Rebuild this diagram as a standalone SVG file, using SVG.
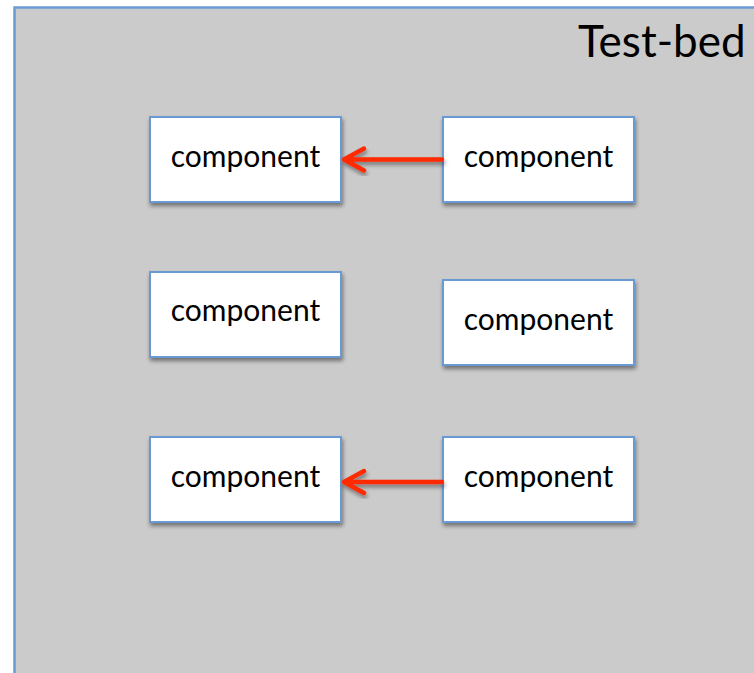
<svg xmlns="http://www.w3.org/2000/svg" width="754" height="673" viewBox="0 0 754 673">
  <defs>
    <filter id="shadow" x="-10%" y="-10%" width="125%" height="135%">
      <feGaussianBlur in="SourceAlpha" stdDeviation="2"/>
      <feOffset dx="1" dy="3" result="b"/>
      <feComponentTransfer><feFuncA type="linear" slope="0.45"/></feComponentTransfer>
      <feMerge><feMergeNode/><feMergeNode in="SourceGraphic"/></feMerge>
    </filter>
  </defs>
  <style>
    .bed { fill: #CBCBCB; stroke: #6A9AD3; stroke-width: 2.5; }
    .box { fill: #FFFFFF; stroke: #6A9AD3; stroke-width: 2; filter: url(#shadow); }
    .lbl { font-family: Lato, "Open Sans", sans-serif; font-size: 30px; fill: #000; text-anchor: middle; }
    .title { font-family: Lato, "Open Sans", sans-serif; font-size: 44px; fill: #000; }
    .conn { stroke: #FF2A00; stroke-width: 4.5; fill: none; stroke-linecap: round; stroke-linejoin: round; filter: url(#shadow); }
  </style>

  <rect width="754" height="673" fill="#FFFFFF"/>

  <g id="testbed">
    <rect class="bed" x="14.5" y="7.5" width="760" height="690"/>
    <text class="title" x="578" y="57">Test-bed</text>
  </g>

  <g id="c1"><rect class="box" x="150" y="117" width="191" height="85"/><text class="lbl" x="245.5" y="167">component</text></g>
  <g id="c2"><rect class="box" x="443" y="117" width="191" height="85"/><text class="lbl" x="538.5" y="167">component</text></g>
  <g id="c3"><rect class="box" x="150" y="272" width="191" height="85"/><text class="lbl" x="245.5" y="321">component</text></g>
  <g id="c4"><rect class="box" x="443" y="280" width="191" height="85"/><text class="lbl" x="538.5" y="330">component</text></g>
  <g id="c5"><rect class="box" x="150" y="437" width="191" height="85"/><text class="lbl" x="245.5" y="487">component</text></g>
  <g id="c6"><rect class="box" x="443" y="437" width="191" height="85"/><text class="lbl" x="538.5" y="487">component</text></g>

  <g id="connectors">
    <!-- c2 -> c1 -->
    <path class="conn" d="M442 159.5 L344 159.5 M364 148.5 L344 159.5 L364 170.5"/>
    <!-- c6 -> c5 -->
    <path class="conn" d="M442 482 L344 482 M364 471 L344 482 L364 493"/>
  </g>
</svg>
